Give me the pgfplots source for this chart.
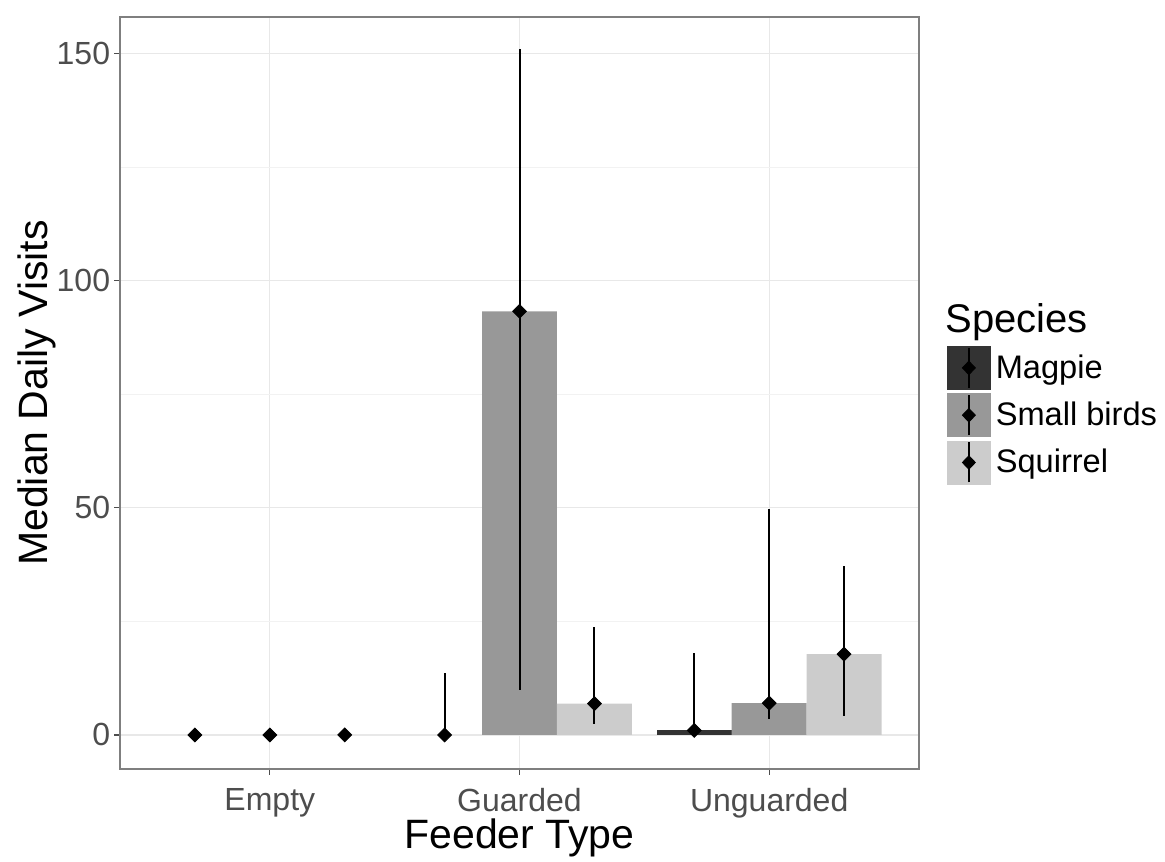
\documentclass[border=0pt]{standalone}
\usepackage{fontspec}
\setmainfont{Liberation Sans}
\usepackage{pgfplots}
\pgfplotsset{compat=1.18}
\usepackage{pgfplotstable}
\definecolor{magpie}{HTML}{333333}
\definecolor{smallb}{HTML}{989898}
\definecolor{squir}{HTML}{CCCCCC}
\definecolor{gridc}{HTML}{E8E8E8}
\definecolor{gridm}{HTML}{F2F2F2}
\definecolor{tickc}{HTML}{4D4D4D}
\definecolor{borderc}{HTML}{7F7F7F}

\pgfplotstableread{
x   y    ep    em
0.7 0    0     0
1.0 0    0     0
1.3 0    0     0
1.7 0    13.7  0
2.0 93.3 57.8  83.5
2.3 6.9  16.8  4.4
2.7 1    17    1
3.0 7    42.8  3.5
3.3 17.8 19.4  13.6
}\errtable

\newcommand{\keyimg}[1]{%
  \fill[#1] (0pt,-10.75pt) rectangle (21.5pt,10.75pt);
  \draw[black, line width=1pt] (10.75pt,-10pt) -- (10.75pt,10pt);
  \fill[black] (10.75pt,3.4pt) -- (14pt,0pt) -- (10.75pt,-3.4pt) -- (7.5pt,0pt) -- cycle;
}

\begin{document}
\begin{tikzpicture}
\useasboundingbox (-60pt,-46pt) rectangle (522.5pt,384.5pt);
\begin{axis}[
  at={(0pt,0pt)}, anchor=south west,
  scale only axis, width=399.5pt, height=376pt,
  xmin=0.4, xmax=3.6, ymin=-7.5, ymax=158.1,
  clip mode=individual,
  xtick={1,2,3}, xticklabels={Empty,Guarded,Unguarded},
  ytick={0,50,100,150}, minor ytick={25,75,125},
  grid=both,
  major grid style={gridc, line width=0.6pt},
  minor grid style={gridm, line width=0.4pt},
  axis line style={borderc, line width=0.6pt},
  tick align=outside, xtick pos=left, ytick pos=left,
  major tick length=2.75pt, minor tick length=0pt,
  tick style={tickc, line width=0.6pt},
  ticklabel style={font=\fontsize{16}{19}\selectfont, text=tickc},
  xticklabel style={yshift=-3.5pt},
  yticklabel style={inner sep=2pt},
  /pgf/number format/assume math mode=true,
  xlabel={Feeder Type}, ylabel={Median Daily Visits},
  label style={font=\fontsize{20.5}{24}\selectfont},
  xlabel style={at={(axis description cs:0.5,-0.0918)}, anchor=center},
  ylabel style={at={(axis description cs:-0.1039,0.5)}, anchor=center},
  legend style={at={(axis description cs:1.035,0.5625)}, anchor=north west,
    draw=none, fill=none, inner sep=0pt, outer sep=0pt, row sep=1.75pt,
    font=\fontsize{16.3}{19}\selectfont,
    /tikz/every odd column/.append style={column sep=0.5pt}},
  legend cell align=left,
]
\addplot[ybar, bar width=0.3, bar shift=0pt, fill=magpie, draw=none, forget plot]
  coordinates {(2.7,1)};
\addplot[ybar, bar width=0.3, bar shift=0pt, fill=smallb, draw=none, forget plot]
  coordinates {(2,93.3) (3,7)};
\addplot[ybar, bar width=0.3, bar shift=0pt, fill=squir, draw=none, forget plot]
  coordinates {(2.3,6.9) (3.3,17.8)};
\addplot[only marks, black, mark=square*, mark size=2.45pt, mark options={rotate=45, fill=black},
  forget plot,
  error bars/.cd, y dir=both, y explicit, error mark=none,
  error bar style={line width=1pt, black}]
  table[x=x, y=y, y error plus=ep, y error minus=em] {\errtable};

\addlegendimage{legend image code/.code={\keyimg{magpie}}}
\addlegendentry{Magpie}
\addlegendimage{legend image code/.code={\keyimg{smallb}}}
\addlegendentry{Small birds}
\addlegendimage{legend image code/.code={\keyimg{squir}}}
\addlegendentry{Squirrel}

\node[anchor=base west, font=\fontsize{20}{24}\selectfont, inner sep=0pt]
  at (axis description cs:1.0325,0.5798) {Species};
\end{axis}
\end{tikzpicture}
\end{document}
